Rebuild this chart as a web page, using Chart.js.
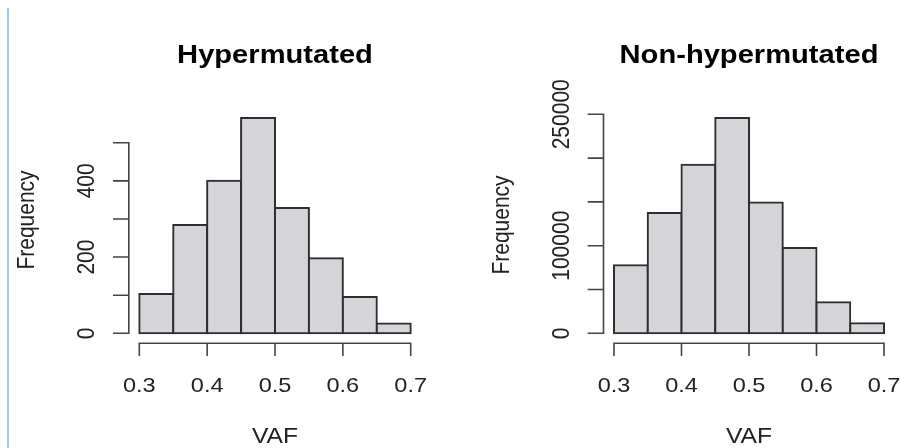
<!DOCTYPE html>
<html>
<head>
<meta charset="utf-8">
<script src="https://cdn.jsdelivr.net/npm/chart.js@4.4.1/dist/chart.umd.min.js"></script>
<style>
  html, body { margin: 0; padding: 0; background: #fff; }
  body { width: 900px; height: 448px; position: relative; overflow: hidden; }
  .edge { position: absolute; left: 7px; top: 8px; bottom: 0; width: 2px; background: #9ec4f5; }
  canvas { position: absolute; top: 0; }
  #hyperChart { left: 0; }
  #nonHyperChart { left: 450px; }
</style>
</head>
<body>
<div class="edge"></div>
<canvas id="hyperChart" width="450" height="448"></canvas>
<canvas id="nonHyperChart" width="450" height="448"></canvas>
<script>
// histogram bins (VAF) and counts per bin
const binEdges = [0.3, 0.35, 0.4, 0.45, 0.5, 0.55, 0.6, 0.65, 0.7];
const hyperCounts = [103, 284, 400, 565, 329, 197, 95, 26];
const nonHyperCounts = [77600, 137400, 192500, 245800, 149200, 97400, 35400, 11400];

// axis ticks
const xTicks = [0.3, 0.4, 0.5, 0.6, 0.7];
const xTickLabels = ["0.3", "0.4", "0.5", "0.6", "0.7"];
const hyperYTicks = [0, 100, 200, 300, 400, 500];
const hyperYLabels = ["0", "", "200", "", "400", ""];
const nonHyperYTicks = [0, 50000, 100000, 150000, 200000, 250000];
const nonHyperYLabels = ["0", "", "100000", "", "", "250000"];

const FONT = '"Liberation Sans", Arial, Helvetica, sans-serif';
const SX = 1.12; // the picture is a bit wider than it is tall

function stretchedText(ctx, text, x, y, font, color, angle) {
  ctx.save();
  ctx.translate(x, y);
  ctx.scale(SX, 1);
  if (angle) ctx.rotate(angle);
  ctx.font = font;
  ctx.fillStyle = color;
  ctx.textAlign = "center";
  ctx.textBaseline = "alphabetic";
  ctx.fillText(text, 0, 0);
  ctx.restore();
}

// R style axes: detached from the plot, lines only as long as the ticks
const rAxes = {
  id: "rAxes",
  afterDraw(chart, args, opts) {
    const { ctx, chartArea } = chart;
    const { x, y } = chart.scales;
    const y0 = y.getPixelForValue(0);
    const yTop = y.getPixelForValue(opts.yTicks[opts.yTicks.length - 1]);
    const axX = chartArea.left - 10.5;
    const axY = y0 + 10;
    const xl = x.getPixelForValue(xTicks[0]);
    const xr = x.getPixelForValue(xTicks[xTicks.length - 1]);

    ctx.save();
    ctx.strokeStyle = "#444";
    ctx.lineWidth = 1.6;
    ctx.lineCap = "square";
    ctx.beginPath();
    ctx.moveTo(axX, y0);
    ctx.lineTo(axX, yTop);
    opts.yTicks.forEach((v) => {
      const py = y.getPixelForValue(v);
      ctx.moveTo(axX, py);
      ctx.lineTo(axX - 15, py);
    });
    ctx.moveTo(xl, axY);
    ctx.lineTo(xr, axY);
    xTicks.forEach((v) => {
      const px = x.getPixelForValue(v);
      ctx.moveTo(px, axY);
      ctx.lineTo(px, axY + 12);
    });
    ctx.stroke();
    ctx.restore();

    // tick labels
    opts.yTicks.forEach((v, i) => {
      if (!opts.yLabels[i]) return;
      stretchedText(ctx, opts.yLabels[i], axX - 35, y.getPixelForValue(v),
        "21px " + FONT, "#222", -Math.PI / 2);
    });
    xTicks.forEach((v, i) => {
      stretchedText(ctx, xTickLabels[i], x.getPixelForValue(v), axY + 49, "21px " + FONT, "#222");
    });

    // titles
    const cx = (chartArea.left + chartArea.right) / 2;
    stretchedText(ctx, opts.title, cx, 63, "bold 26px " + FONT, "#000");
    stretchedText(ctx, "VAF", cx, 443, "22px " + FONT, "#222");
    stretchedText(ctx, "Frequency", axX - 95, opts.ylabelY, "21px " + FONT, "#222", -Math.PI / 2);
  },
};

function histogram(id, counts, yMax, yTicks, yLabels, title, padding, ylabelY) {
  const ctx = document.getElementById(id).getContext("2d");
  return new Chart(ctx, {
    type: "bar",
    data: {
      datasets: [
        {
          data: counts.map((c, i) => ({ x: (binEdges[i] + binEdges[i + 1]) / 2, y: c })),
          backgroundColor: "#d5d4d8",
          borderColor: "#2e2e2e",
          borderWidth: 2,
          borderSkipped: false,
          inflateAmount: 1, // neighbours share one edge line
          barPercentage: 1,
          categoryPercentage: 1,
          clip: false,
        },
      ],
    },
    options: {
      responsive: false,
      animation: false,
      layout: { padding },
      plugins: {
        legend: { display: false },
        tooltip: { enabled: false },
        rAxes: { yTicks, yLabels, title, ylabelY },
      },
      scales: {
        x: {
          type: "linear",
          offset: false,
          min: binEdges[0],
          max: binEdges[binEdges.length - 1],
          display: false,
        },
        y: { min: 0, max: yMax, display: false },
      },
    },
    plugins: [rAxes],
  });
}

histogram("hyperChart", hyperCounts, 600, hyperYTicks, hyperYLabels, "Hypermutated",
  { top: 104.6, bottom: 114.7, left: 139.3, right: 39.3 }, 220);
histogram("nonHyperChart", nonHyperCounts, 300000, nonHyperYTicks, nonHyperYLabels, "Non-hypermutated",
  { top: 70.5, bottom: 114.7, left: 164, right: 16 }, 225);
</script>
</body>
</html>
